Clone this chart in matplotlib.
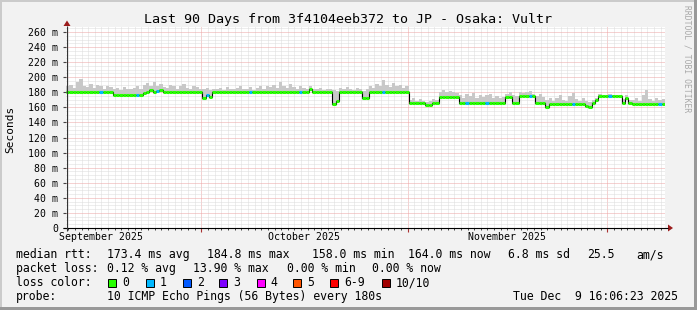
import numpy as np
import matplotlib
matplotlib.use('Agg')
import matplotlib.pyplot as plt
import matplotlib.dates as mdates
from matplotlib.ticker import MultipleLocator
from matplotlib.patches import Rectangle, Polygon

plt.rcParams['font.family'] = 'DejaVu Sans Mono'

# ---- data (12 h bins) ----
start_time = np.datetime64('2025-09-10T16:06:23')
end_time = np.datetime64('2025-12-09T16:06:23')

median_ms = [
    180, 180, 180, 180, 180, 180, 180, 180, 180, 180, 180, 180, 180, 180,
    177, 177, 177, 177, 177, 177, 177, 177, 177,
    179, 181, 183, 180, 182, 183, 180,
    180, 180, 180, 180, 180, 180, 180, 180, 180, 180, 180,
    172, 176, 174,
    180, 180, 180, 180, 180, 180, 180, 180, 180, 180, 180, 180, 180, 180, 180,
    180, 180, 180, 180, 180, 180, 180, 180, 180, 180, 180, 180, 180, 180,
    185,
    180, 180, 180, 180, 180, 180,
    164, 168,
    180, 180, 180, 180, 180, 180, 180,
    173, 173,
    180, 180, 180, 180, 180, 180, 180, 180, 180, 180, 180, 180,
    166, 166, 166, 166, 166,
    163, 163,
    166, 166,
    174, 174, 174, 174, 174, 174,
    166, 166, 166, 166, 166, 166, 166, 166, 166, 166, 166, 166, 166, 166,
    174, 174,
    166, 166,
    175, 175, 175, 175, 175,
    166, 166, 166,
    161, 164,
    165, 165, 165, 165, 165, 165, 165, 165, 165, 165,
    162, 160, 166,
    170,
    175, 175, 175, 175, 175, 175, 175,
    166, 173, 166,
    165, 165, 165, 165, 165, 165, 165, 165, 165, 165,
]

smoke_top_ms = [
    188, 190, 186, 193, 197, 189, 187, 191, 186, 190, 188, 185, 189, 187,
    184, 186, 183, 187, 185, 184, 186, 188, 185,
    190, 192, 188, 193, 189, 191, 187,
    186, 190, 188, 185, 189, 191, 186, 184, 188, 187, 185,
    184, 186, 183,
    185, 184, 186, 183, 187, 185, 184, 186, 188, 185, 184, 187, 183,
    186, 188, 185, 189, 187, 190, 186, 193, 188, 186, 191, 187, 185, 189, 186, 184,
    188,
    185, 184, 186, 183, 185, 184,
    183, 182,
    186, 184, 187, 185, 183, 186, 184,
    182, 184,
    188, 186, 191, 189, 196, 190, 187, 192, 188, 190, 186, 189,
    170, 172, 169, 171, 168,
    167, 169,
    171, 170,
    180, 183, 181, 182, 180, 179,
    176, 173, 178, 175, 179, 172, 177, 174, 176, 178, 173, 175, 172, 174,
    178, 180,
    176, 175,
    181, 179, 180, 182, 178,
    175, 178, 174,
    170, 172,
    169, 172, 176, 170, 168, 175, 179, 171, 169, 173,
    168, 167, 170,
    173,
    178, 177, 176, 178, 177, 176, 177,
    171, 176, 170,
    170, 172, 169, 176, 183, 171, 169, 172, 170, 171,
]

loss_pings = [0] * len(median_ms)
for i in [10, 21, 27, 42, 55, 70, 95, 120, 126, 139, 152, 163, 178]:
    loss_pings[i] = 1

loss_labels = ['0', '1', '2', '3', '4', '5', '6-9', '10/10']
loss_colors = ['#26ff00', '#00b8ff', '#0059ff', '#7e00ff', '#ff00ff',
               '#ff5500', '#ff0000', '#a10000']

y_ticks = [0, 20, 40, 60, 80, 100, 120, 140, 160, 180, 200, 220, 240, 260]
y_ticklabels = ['0', '20 m', '40 m', '60 m', '80 m', '100 m', '120 m', '140 m',
                '160 m', '180 m', '200 m', '220 m', '240 m', '260 m']
month_starts = ['2025-10-01', '2025-11-01', '2025-12-01']
month_label_dates = ['2025-09-16T00:00', '2025-10-16T12:00', '2025-11-16T00:00']
month_labels = ['September 2025', 'October 2025', 'November 2025']

W, H = 697, 310
fig = plt.figure(figsize=(W / 100, H / 100), dpi=100)
fig.patch.set_facecolor('#f2f2f2')

# plot area in pixels
x0, x1, ytop, ybot = 66, 665, 27, 228
ax = fig.add_axes([x0 / W, 1 - ybot / H, (x1 - x0) / W, (ybot - ytop) / H])
ax.set_facecolor('white')

edges = start_time + np.timedelta64(12, 'h') * np.arange(len(median_ms) + 1)
edges = mdates.date2num(edges.astype('datetime64[s]'))
med = np.array(median_ms, float)
top = np.array(smoke_top_ms, float)

ax.set_xlim(mdates.date2num(start_time.astype('datetime64[s]')),
            mdates.date2num(end_time.astype('datetime64[s]')))
ax.set_ylim(0, 266.6)

# grid
ax.yaxis.set_major_locator(MultipleLocator(20))
ax.yaxis.set_minor_locator(MultipleLocator(5))
ax.xaxis.set_minor_locator(mdates.DayLocator())
ax.set_xticks(mdates.date2num(np.array(month_starts, dtype='datetime64[s]')))
ax.set_xticklabels([])
ax.grid(which='minor', color='#dcdcdc', linestyle=(0, (1, 1)), linewidth=0.72)
ax.grid(which='major', color='#eca4a4', linestyle=(0, (1, 1)), linewidth=0.72)
ax.set_axisbelow(True)
ax.set_yticks(y_ticks)
ax.set_yticklabels(y_ticklabels, fontsize=7.1)
ax.tick_params(axis='y', which='major', length=2.5, width=0.8, pad=3.2, color='#444444')
ax.tick_params(axis='y', which='minor', length=0)
ax.tick_params(axis='x', which='major', length=3, width=0.8, color='#aa3333')
ax.tick_params(axis='x', which='minor', length=1.5, width=0.7, color='#444444')
for s in ax.spines.values():
    s.set_visible(False)

# smoke, median with loss colour
ax.stairs(top, edges, baseline=med, fill=True, color='#c8c8c8', lw=0, zorder=2)
ax.stairs(med, edges, baseline=None, color='black', lw=0.8, zorder=3)
ax.hlines(med, edges[:-1], edges[1:], colors=[loss_colors[l] for l in loss_pings],
          lw=2.2, zorder=4, capstyle='butt')

for d, lab in zip(month_label_dates, month_labels):
    ax.text(mdates.date2num(np.datetime64(d, 's')), -11.8, lab, ha='center', va='center',
            fontsize=7.1, clip_on=False)

# overlay in pixel coordinates
ov = fig.add_axes([0, 0, 1, 1])
ov.set_xlim(0, W)
ov.set_ylim(H, 0)
ov.axis('off')
ov.set_zorder(5)

# border shading
ov.add_patch(Rectangle((0, 0), W, 2, color='#cbcbcb', lw=0))
ov.add_patch(Rectangle((0, 0), 2, H, color='#cbcbcb', lw=0))
ov.add_patch(Rectangle((0, H - 3), W, 3, color='#999999', lw=0))
ov.add_patch(Rectangle((W - 3, 0), 3, H, color='#999999', lw=0))

# axes lines with arrows
ov.plot([63, 668], [228, 228], color='black', lw=0.8, solid_capstyle='butt')
ov.plot([67, 67], [231, 26], color='#333333', lw=0.8, solid_capstyle='butt')
ov.add_patch(Polygon([[668, 224.5], [673, 228], [668, 231.5]], closed=True, color='#9b1c1c', lw=0))
ov.add_patch(Polygon([[63.5, 26], [67, 20.5], [70.5, 26]], closed=True, color='#9b1c1c', lw=0))

ov.text(348.5, 19, 'Last 90 Days from 3f4104eeb372 to JP - Osaka: Vultr',
        ha='center', va='center', fontsize=9.6)
ov.text(10, 129, 'Seconds', rotation=90, ha='center', va='center', fontsize=8)
ov.text(686.5, 5, 'RRDTOOL / TOBI OETIKER', rotation=270, ha='center', va='top',
        fontsize=5.8, color='#a8a8a8')

fs = 8.3
r1, r2, r3, r4 = 254.7, 268.7, 282.7, 296.5
ov.text(16, r1, 'median rtt:', va='center', fontsize=fs)
for x, t in [(107.3, '173.4 ms avg'), (207.3, '184.8 ms max'), (311.7, '158.0 ms min'),
             (408.3, '164.0 ms now'), (507.7, '6.8 ms sd'), (586.7, '25.5'), (636.7, 'am/s')]:
    ov.text(x, r1, t, va='center', fontsize=fs)
ov.text(16, r2, 'packet loss:', va='center', fontsize=fs)
for x, t in [(107.3, '0.12 % avg'), (193.3, '13.90 % max'), (286.7, '0.00 % min'),
             (372.3, '0.00 % now')]:
    ov.text(x, r2, t, va='center', fontsize=fs)
ov.text(16, r3, 'loss color:', va='center', fontsize=fs)
for x, lab, c in zip([108.3, 145.7, 182.7, 219.3, 256.7, 293.3, 330, 381.7],
                     loss_labels, loss_colors):
    ov.add_patch(Rectangle((x, r3 - 4), 8, 8, facecolor=c, edgecolor='black', lw=0.7))
    ov.text(x + 14, r3, lab, va='center', fontsize=fs)
ov.text(16, r4, 'probe:', va='center', fontsize=fs)
ov.text(107.3, r4, '10 ICMP Echo Pings (56 Bytes) every 180s', va='center', fontsize=fs)
ov.text(513.3, r4, 'Tue Dec  9 16:06:23 2025', va='center', fontsize=fs)

fig.savefig('out.png', dpi=100, facecolor=fig.get_facecolor())
